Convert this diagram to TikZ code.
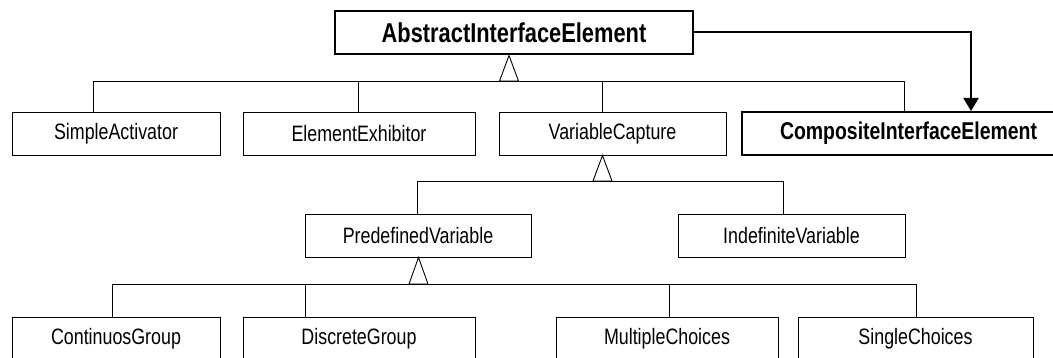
\documentclass[tikz,border=0pt]{standalone}
\usepackage{fontspec}
\setmainfont[FakeStretch=0.8]{Liberation Sans}
\usetikzlibrary{arrows.meta}
\tikzset{
  x=1pt, y=1pt,
  cls/.style={draw, line width=0.9pt, rectangle, inner sep=0pt, minimum height=43pt,
    font=\fontsize{22.3}{26}\selectfont},
  keycls/.style={cls, line width=2pt, font=\fontsize{27.3}{31}\selectfont\bfseries},
  link/.style={line width=0.9pt},
  gen/.style={line width=0.9pt, fill=white, line join=miter},
  assoc/.style={line width=2pt, -{Triangle[width=15pt,length=13pt]}}
}
\begin{document}
\begin{tikzpicture}
\useasboundingbox (0,0) rectangle (1053,-358);
\clip (0,0) rectangle (1053,-358);

% classes
\node[keycls, minimum width=358pt] (abs) at (514,-33) {AbstractInterfaceElement};
\node[cls, minimum width=208pt] (sa) at (116,-133.5) {SimpleActivator};
\node[cls, minimum width=232pt] (ee) at (359,-133.5) {ElementExhibitor};
\node[cls, minimum width=227pt] (vc) at (612.5,-133.5) {VariableCapture};
\node[keycls, minimum width=330pt, text width=310pt, align=left,
  font=\fontsize{24.3}{28}\selectfont\bfseries] (cie) at (907,-133.5)
  {\hspace*{28pt}CompositeInterfaceElement};
\node[cls, minimum width=226pt] (pv) at (418,-235.5) {PredefinedVariable};
\node[cls, minimum width=227pt] (iv) at (791.5,-235.5) {IndefiniteVariable};
\node[cls, minimum width=208pt] (cg) at (116,-338.5) {ContinuosGroup};
\node[cls, minimum width=232pt] (dg) at (359,-338.5) {DiscreteGroup};
\node[cls, minimum width=222pt] (mc) at (667,-338.5) {MultipleChoices};
\node[cls, minimum width=235pt] (sc) at (915.5,-338.5) {SingleChoices};

% generalisation: AbstractInterfaceElement
\coordinate (g1) at (509,-81);
\coordinate (d11) at (93,-81);  \coordinate (d12) at (358,-81);
\coordinate (d13) at (602,-81); \coordinate (d14) at (904,-81);
\draw[link] (d11 |- sa.north) -- (d11) -- (d14) -- (d14 |- cie.north);
\draw[link] (d12) -- (d12 |- ee.north);
\draw[link] (d13) -- (d13 |- vc.north);
\draw[gen] (g1 |- abs.south) -- ([xshift=9.5pt]g1) -- ([xshift=-9.5pt]g1) -- cycle;

% generalisation: VariableCapture
\coordinate (g2) at (602.5,-181);
\coordinate (d21) at (417,-181); \coordinate (d22) at (783,-181);
\draw[link] (d21 |- pv.north) -- (d21) -- (d22) -- (d22 |- iv.north);
\draw[gen] (g2 |- vc.south) -- ([xshift=9.5pt]g2) -- ([xshift=-9.5pt]g2) -- cycle;

% generalisation: PredefinedVariable
\coordinate (g3) at (418.5,-284);
\coordinate (d31) at (112,-284); \coordinate (d32) at (305,-284);
\coordinate (d33) at (669,-284); \coordinate (d34) at (916,-284);
\draw[link] (d31 |- cg.north) -- (d31) -- (d34) -- (d34 |- sc.north);
\draw[link] (d32) -- (d32 |- dg.north);
\draw[link] (d33) -- (d33 |- mc.north);
\draw[gen] (g3 |- pv.south) -- ([xshift=9.5pt]g3) -- ([xshift=-9.5pt]g3) -- cycle;

% association
\coordinate (a1) at (971,-32);
\draw[assoc] (abs.east |- a1) -- (a1) -- (a1 |- cie.north);
\end{tikzpicture}
\end{document}
